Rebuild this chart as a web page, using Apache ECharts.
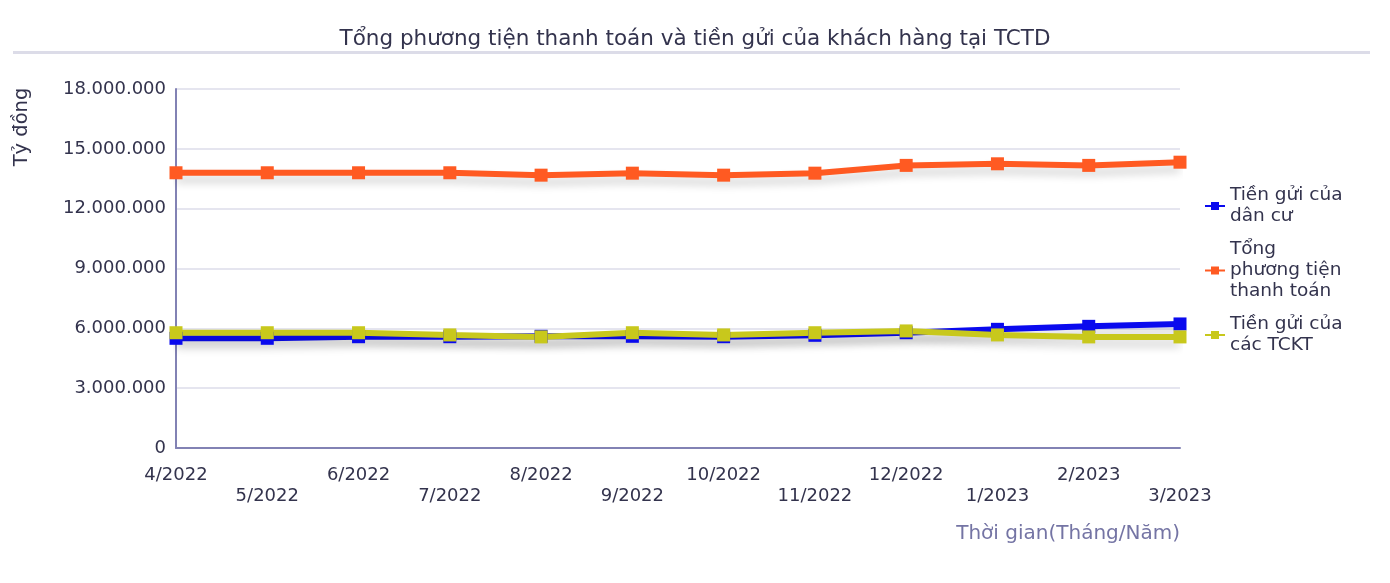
<!DOCTYPE html>
<html>
<head>
<meta charset="utf-8">
<script src="https://cdn.jsdelivr.net/npm/echarts@6/dist/echarts.min.js"></script>
<style>
  html, body { margin: 0; padding: 0; background: #fff; }
  #main { width: 1390px; height: 583px; }
</style>
</head>
<body>
<div id="main"></div>
<script>
// dữ liệu (tỷ đồng)
const months = ['4/2022', '5/2022', '6/2022', '7/2022', '8/2022', '9/2022',
  '10/2022', '11/2022', '12/2022', '1/2023', '2/2023', '3/2023'];
const danCu = [5500000, 5500000, 5580000, 5580000, 5600000, 5600000,
  5580000, 5650000, 5780000, 5950000, 6100000, 6220000];
const tongPTTT = [13800000, 13800000, 13800000, 13800000, 13680000, 13780000,
  13680000, 13780000, 14170000, 14250000, 14170000, 14330000];
const tckt = [5780000, 5780000, 5780000, 5670000, 5570000, 5780000,
  5670000, 5780000, 5870000, 5670000, 5570000, 5570000];
const yTicks = [0, 3000000, 6000000, 9000000, 12000000, 15000000, 18000000];

const seriesNames = ['Tiền gửi của dân cư', 'Tổng phương tiện thanh toán', 'Tiền gửi của các TCKT'];
const legendLabels = {
  'Tiền gửi của dân cư': 'Tiền gửi của\ndân cư',
  'Tổng phương tiện thanh toán': 'Tổng\nphương tiện\nthanh toán',
  'Tiền gửi của các TCKT': 'Tiền gửi của\ncác TCKT'
};

const FONT = 'DejaVu Sans';
const TEXT = '#33334d';

const chartDom = document.getElementById('main');
const myChart = echarts.init(chartDom);

function fmt(v) {
  return String(v).replace(/\B(?=(\d{3})+(?!\d))/g, '.');
}

function lineSeries(name, data, color) {
  return {
    name: name,
    type: 'line',
    data: data,
    symbol: 'rect',
    symbolSize: 13,
    showSymbol: true,
    itemStyle: { color: color },
    lineStyle: {
      color: color,
      width: 6,
      shadowColor: 'rgba(0,0,0,0.18)',
      shadowBlur: 8,
      shadowOffsetY: 7
    },
    emphasis: { disabled: true },
    animation: false
  };
}

const option = {
  backgroundColor: '#fff',
  textStyle: { fontFamily: FONT },
  title: {
    text: 'Tổng phương tiện thanh toán và tiền gửi của khách hàng tại TCTD',
    left: 'center',
    top: 23,
    textStyle: { fontFamily: FONT, fontSize: 21.5, fontWeight: 'normal', color: TEXT }
  },
  graphic: [
    {
      type: 'rect',
      shape: { x: 13, y: 51, width: 1357, height: 3 },
      style: { fill: '#dcdce8' },
      silent: true
    },
    {
      type: 'text',
      x: 12,
      y: 127,
      rotation: Math.PI / 2,
      style: {
        text: 'Tỷ đồng',
        font: '19.5px "DejaVu Sans"',
        fill: TEXT,
        align: 'center',
        verticalAlign: 'top'
      },
      silent: true
    }
  ],
  legend: {
    orient: 'vertical',
    left: 1199,
    top: 180,
    itemGap: 12,
    itemWidth: 20,
    itemHeight: 10,
    data: seriesNames,
    formatter: function (n) { return legendLabels[n]; },
    textStyle: { fontFamily: FONT, fontSize: 18.5, lineHeight: 21, color: TEXT }
  },
  grid: { left: 176, right: 210, top: 89, bottom: 135, containLabel: false },
  xAxis: {
    type: 'category',
    data: months,
    boundaryGap: false,
    name: 'Thời gian(Tháng/Năm)',
    nameLocation: 'end',
    nameGap: 0,
    nameTextStyle: {
      fontFamily: FONT, fontSize: 20, color: '#7474a4',
      align: 'right', verticalAlign: 'top', padding: [76, 0, 0, 0]
    },
    axisLine: { lineStyle: { color: '#8282b4', width: 2 } },
    axisTick: { show: false },
    splitLine: { show: false },
    axisLabel: {
      interval: 0,
      margin: 17,
      fontSize: 18,
      lineHeight: 21,
      color: TEXT,
      fontFamily: FONT,
      formatter: function (v, i) { return i % 2 === 1 ? '\n' + v : v; }
    }
  },
  yAxis: {
    type: 'value',
    min: yTicks[0],
    max: yTicks[yTicks.length - 1],
    interval: yTicks[1] - yTicks[0],
    axisLine: { show: true, lineStyle: { color: '#8282b4', width: 2 } },
    axisTick: { show: false },
    splitLine: { lineStyle: { color: '#dcdcea', width: 1.5 } },
    axisLabel: {
      margin: 10,
      fontSize: 18,
      color: TEXT,
      fontFamily: FONT,
      formatter: fmt
    }
  },
  series: [
    lineSeries(seriesNames[0], danCu, '#0a0aee'),
    lineSeries(seriesNames[1], tongPTTT, '#ff5a22'),
    lineSeries(seriesNames[2], tckt, '#c8c81c')
  ]
};

option && myChart.setOption(option);
</script>
</body>
</html>
